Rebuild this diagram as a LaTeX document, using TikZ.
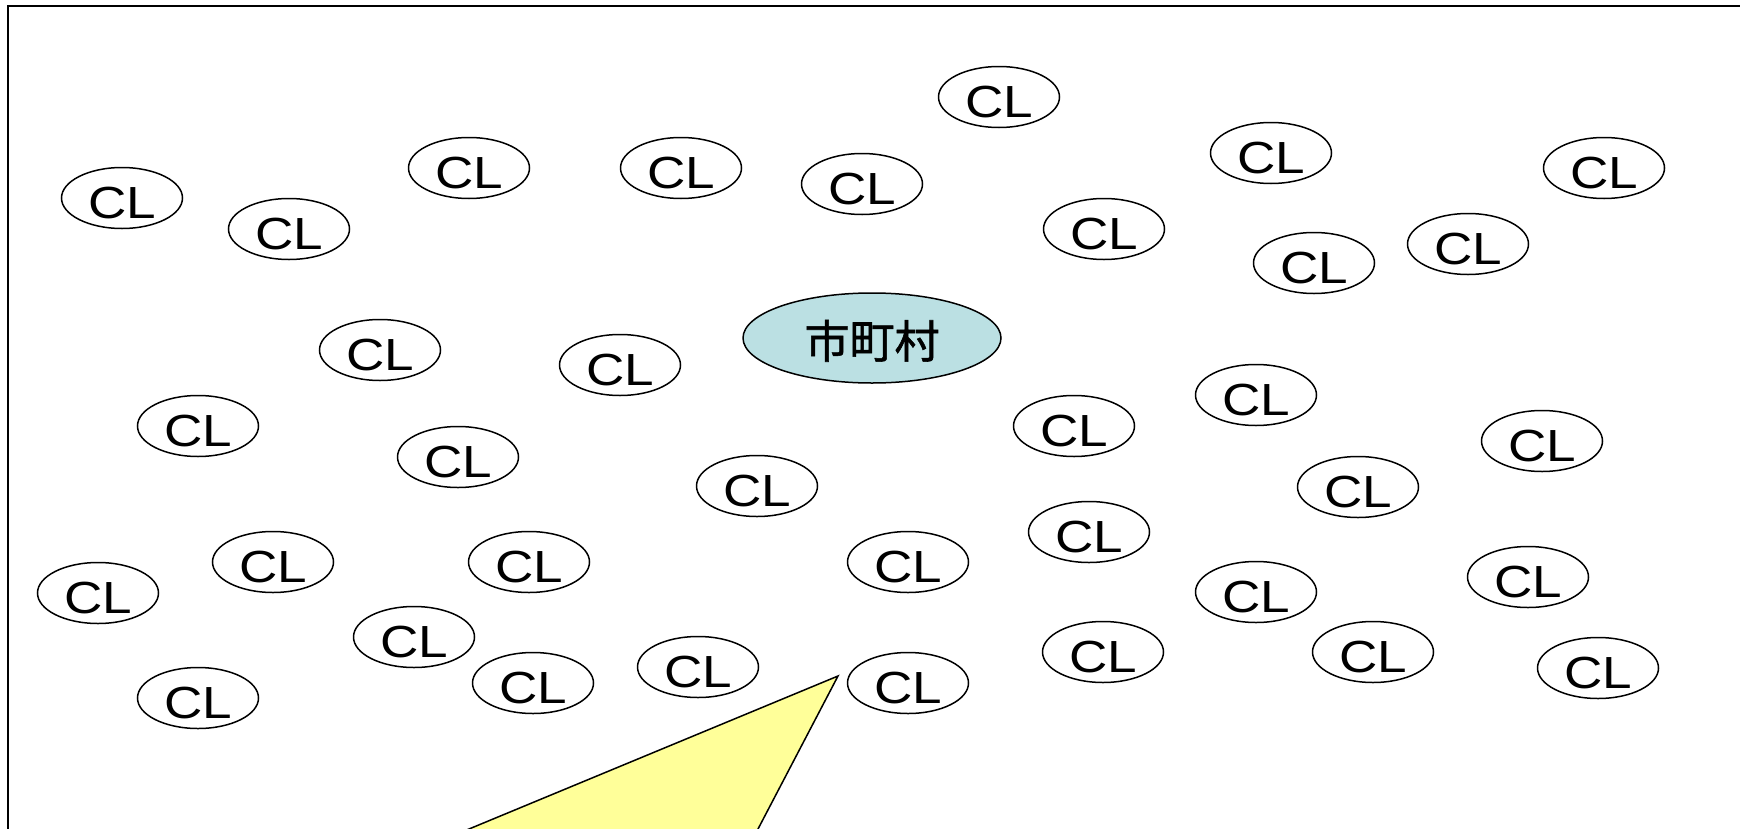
\documentclass[tikz,border=0pt]{standalone}
\usepackage{fontspec}
\setmainfont{Liberation Sans}
\newfontfamily\cjkfont[FakeBold=1.2]{Noto Sans CJK JP}
\usetikzlibrary{shapes.geometric}
\definecolor{muniblue}{RGB}{187,224,227}
\definecolor{calloutyellow}{RGB}{255,255,153}
\tikzset{
  cl/.style={draw=black, line width=1.5bp, ellipse, fill=white, inner sep=0pt,
    minimum width=121bp, minimum height=61bp, text height=40bp, text depth=0pt,
    font=\fontsize{45bp}{54bp}\selectfont, node contents={\scalebox{1.18}[1]{CL}}},
  muni/.style={draw=black, line width=1.5bp, ellipse, fill=muniblue, inner sep=0pt,
    minimum width=258bp, minimum height=90bp, text height=42bp, text depth=2bp,
    font=\fontsize{45bp}{54bp}\selectfont\cjkfont},
  frameline/.style={draw=black, line width=1.6bp},
  callout/.style={draw=black, line width=1.5bp, fill=calloutyellow, line join=miter}
}
\begin{document}
\begin{tikzpicture}[x=1bp, y=-1bp]
\useasboundingbox (0,0) rectangle (1740,829);
\clip (0,0) rectangle (1740,829);
\fill[white] (0,0) rectangle (1740,829);
% frame (top and left edges visible)
\coordinate (ftr) at (1745,6);
\coordinate (ftl) at (8,6);
\coordinate (fbl) at (8,835);
\draw[frameline] (ftr) -- (ftl) -- (fbl);
% callout triangle
\coordinate (tip) at (838,676);
\coordinate (tl) at (284.5,905.5);
\coordinate (tr) at (718,905.5);
\draw[callout] (tip) -- (tl) -- (tr) -- cycle;
% municipality
\node[muni] (m) at (872,338) {市町村};
% CL nodes
\node (c1) at (122,198) [cl];
\node (c2) at (289,229) [cl];
\node (c3) at (469,168) [cl];
\node (c4) at (681,168) [cl];
\node (c5) at (862,184) [cl];
\node (c6) at (999,97) [cl];
\node (c7) at (1271,153) [cl];
\node (c8) at (1604,168) [cl];
\node (c9) at (1104,229) [cl];
\node (c10) at (1314,263) [cl];
\node (c11) at (1468,244) [cl];
\node (c12) at (380,350) [cl];
\node (c13) at (620,365) [cl];
\node (c14) at (198,426) [cl];
\node (c15) at (458,457) [cl];
\node (c16) at (757,486) [cl];
\node (c17) at (1074,426) [cl];
\node (c18) at (1256,395) [cl];
\node (c19) at (1542,441) [cl];
\node (c20) at (1358,487) [cl];
\node (c21) at (1089,532) [cl];
\node (c22) at (908,562) [cl];
\node (c23) at (273,562) [cl];
\node (c24) at (529,562) [cl];
\node (c25) at (98,593) [cl];
\node (c26) at (414,637) [cl];
\node (c27) at (533,683) [cl];
\node (c28) at (698,667) [cl];
\node (c29) at (908,683) [cl];
\node (c30) at (198,698) [cl];
\node (c31) at (1103,652) [cl];
\node (c32) at (1256,592) [cl];
\node (c33) at (1528,577) [cl];
\node (c34) at (1373,652) [cl];
\node (c35) at (1598,668) [cl];
\end{tikzpicture}
\end{document}
